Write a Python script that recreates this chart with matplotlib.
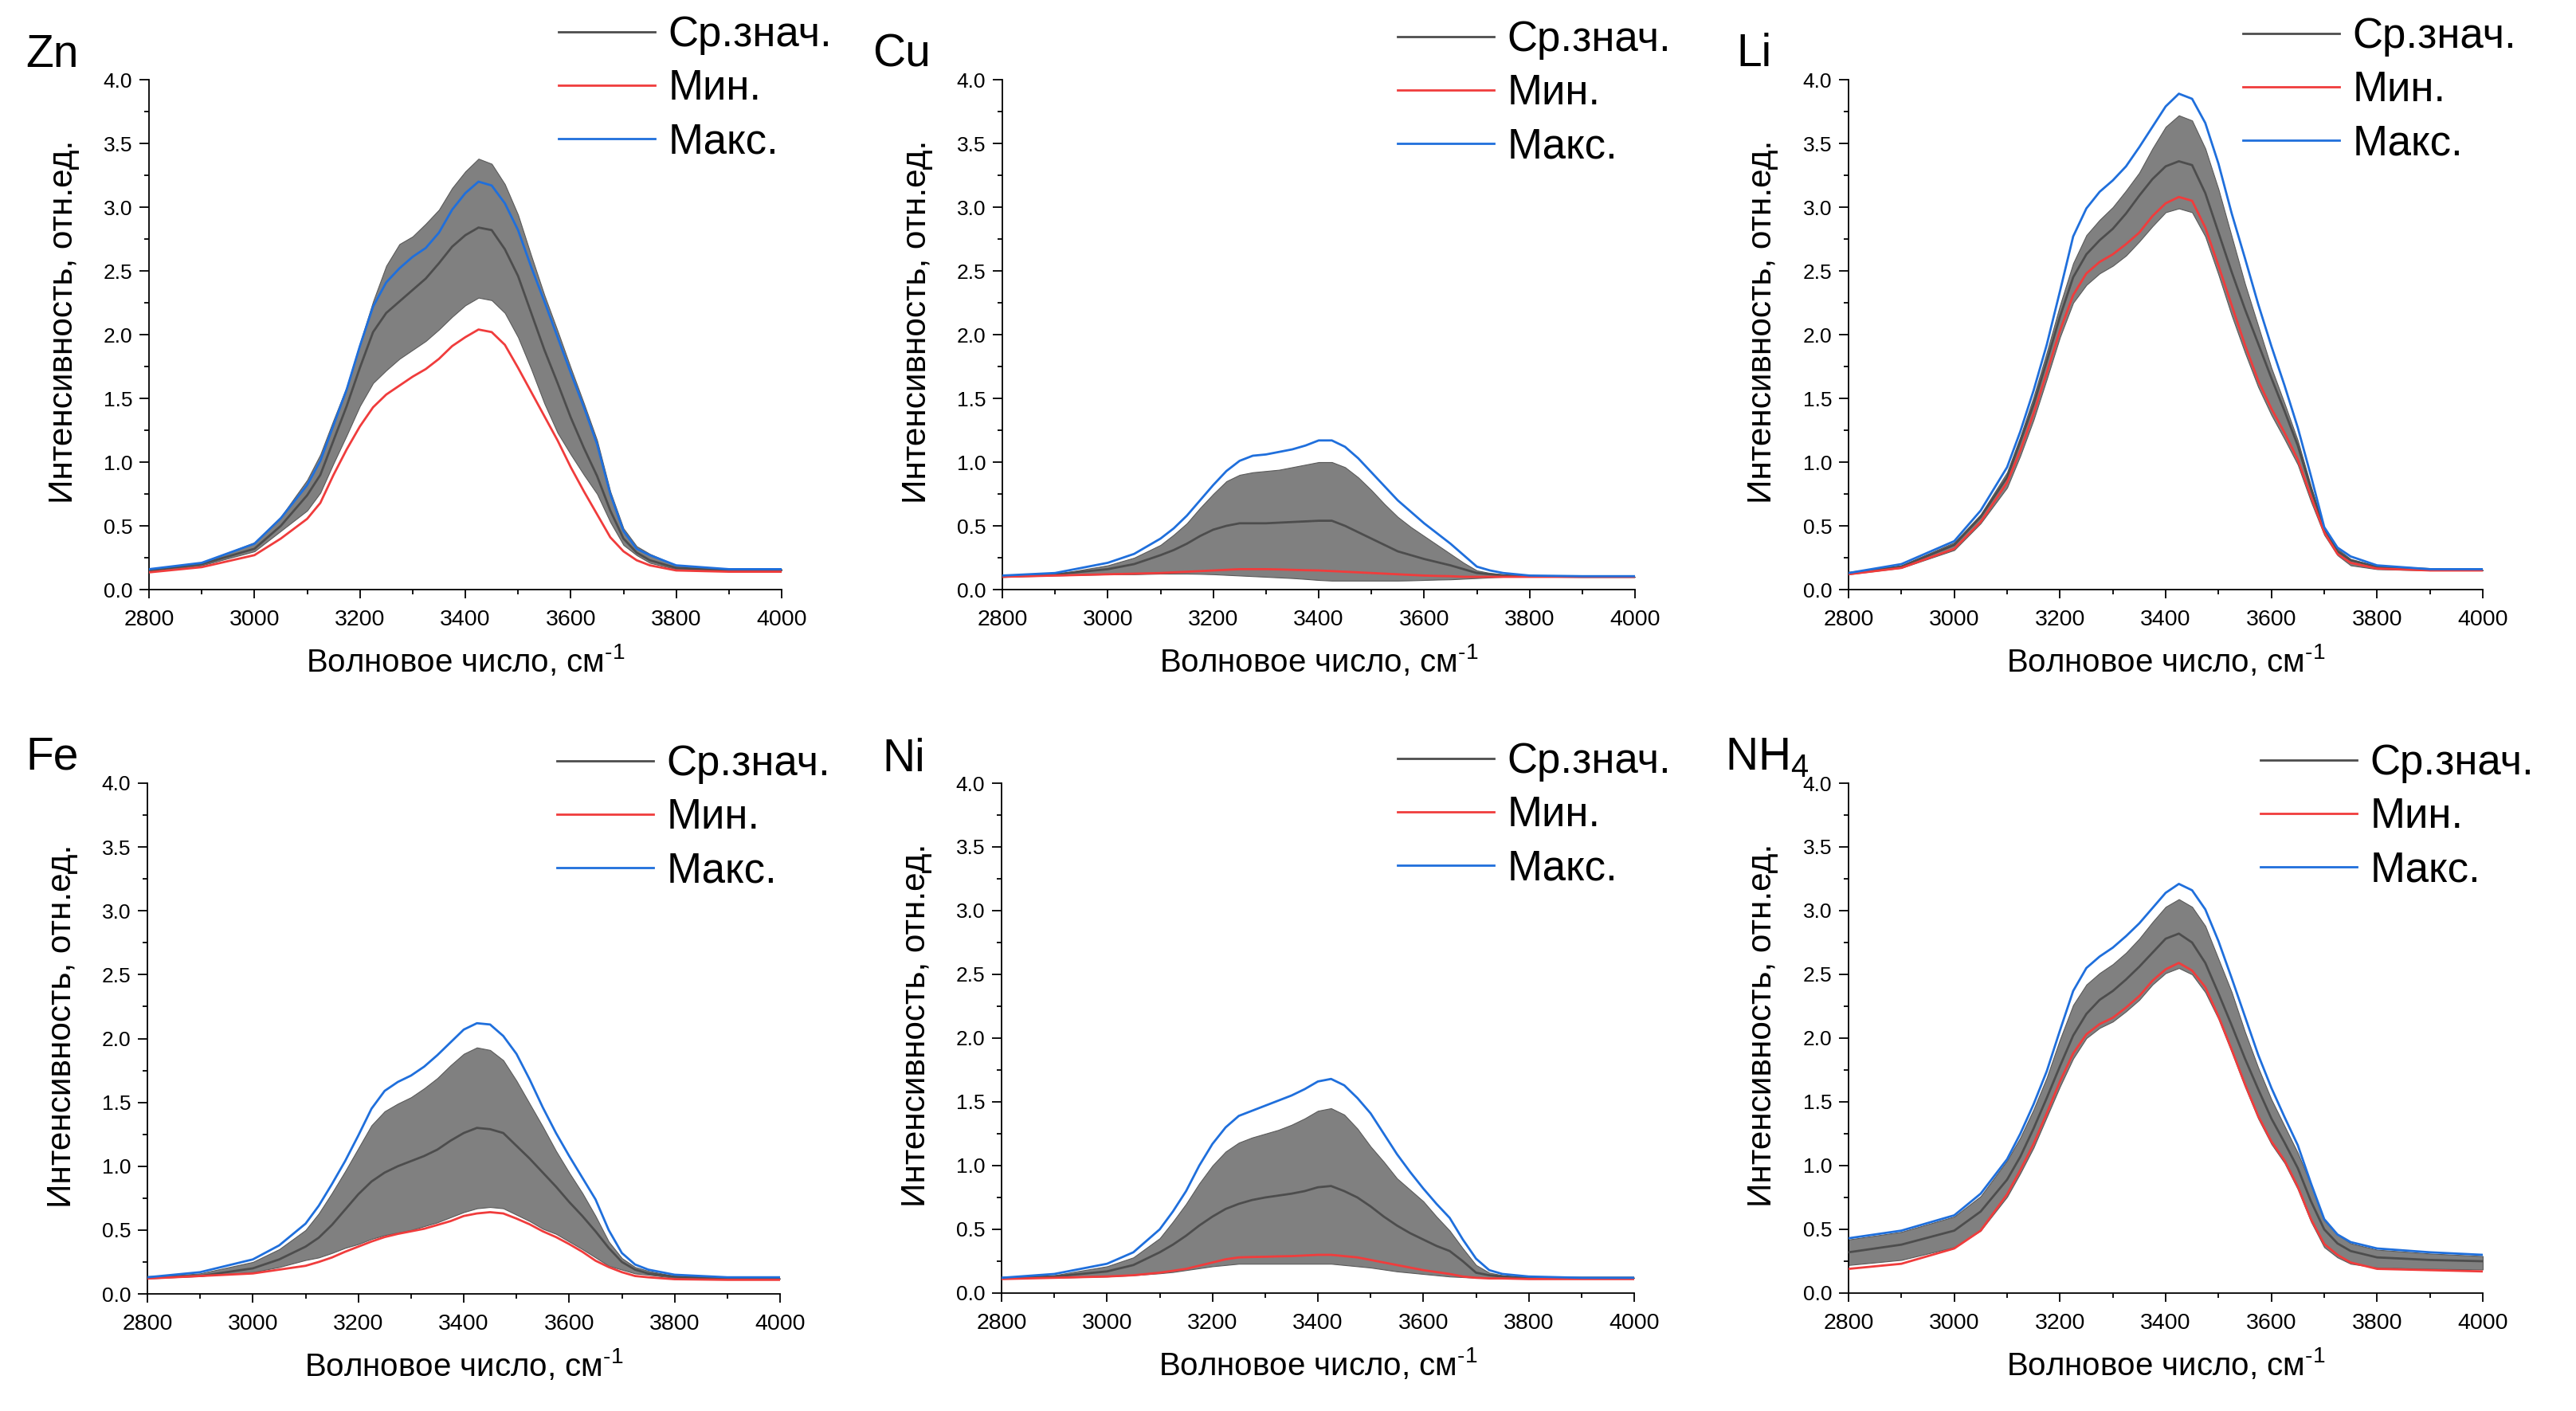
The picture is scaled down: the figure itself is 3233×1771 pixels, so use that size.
import numpy as np
import matplotlib
matplotlib.use("Agg")
import matplotlib.pyplot as plt
from matplotlib.ticker import AutoMinorLocator, MultipleLocator, FormatStrFormatter

plt.rcParams['font.family'] = ['Liberation Sans', 'DejaVu Sans']
plt.rcParams['mathtext.fontset'] = 'custom'
plt.rcParams['mathtext.rm'] = 'Liberation Sans'
plt.rcParams['mathtext.it'] = 'Liberation Sans:italic'

# wavenumber grid, cm-1
wn = [2800, 2900, 3000, 3050, 3100, 3125, 3150, 3175, 3200, 3225, 3250, 3275,
      3300, 3325, 3350, 3375, 3400, 3425, 3450, 3475, 3500, 3525, 3550, 3575,
      3600, 3625, 3650, 3675, 3700, 3725, 3750, 3800, 3900, 4000]

# Zn
zn_max = [0.16, 0.21, 0.36, 0.56, 0.82, 1.01, 1.29, 1.57, 1.91, 2.22, 2.41, 2.52,
          2.61, 2.68, 2.80, 2.98, 3.11, 3.20, 3.17, 3.03, 2.82, 2.53, 2.26, 1.98,
          1.70, 1.43, 1.14, 0.75, 0.46, 0.32, 0.27, 0.19, 0.16, 0.16]
zn_hi = [0.16, 0.21, 0.37, 0.57, 0.86, 1.06, 1.33, 1.59, 1.93, 2.26, 2.54, 2.71,
         2.77, 2.87, 2.98, 3.15, 3.28, 3.38, 3.34, 3.18, 2.94, 2.62, 2.31, 2.03,
         1.74, 1.46, 1.17, 0.77, 0.48, 0.34, 0.28, 0.19, 0.16, 0.16]
zn_mean = [0.15, 0.20, 0.32, 0.50, 0.74, 0.90, 1.17, 1.44, 1.74, 2.02, 2.17, 2.26,
           2.35, 2.44, 2.56, 2.69, 2.78, 2.84, 2.82, 2.67, 2.46, 2.17, 1.88, 1.62,
           1.35, 1.11, 0.89, 0.62, 0.40, 0.29, 0.23, 0.17, 0.15, 0.15]
zn_lo = [0.14, 0.19, 0.30, 0.46, 0.62, 0.76, 0.99, 1.21, 1.44, 1.62, 1.72, 1.81,
         1.88, 1.95, 2.04, 2.14, 2.23, 2.29, 2.27, 2.17, 1.98, 1.73, 1.46, 1.23,
         1.06, 0.90, 0.75, 0.53, 0.35, 0.27, 0.21, 0.16, 0.15, 0.15]
zn_min = [0.135, 0.176, 0.27, 0.40, 0.555, 0.68, 0.90, 1.10, 1.28, 1.43, 1.53, 1.60,
          1.67, 1.73, 1.81, 1.91, 1.98, 2.04, 2.02, 1.92, 1.74, 1.55, 1.36, 1.17,
          0.96, 0.77, 0.59, 0.41, 0.30, 0.23, 0.19, 0.15, 0.14, 0.14]

# Cu
cu_max = [0.11, 0.13, 0.21, 0.28, 0.40, 0.48, 0.58, 0.70, 0.82, 0.93, 1.01, 1.05,
          1.06, 1.08, 1.10, 1.13, 1.17, 1.17, 1.12, 1.03, 0.92, 0.81, 0.70, 0.61,
          0.52, 0.44, 0.36, 0.27, 0.18, 0.15, 0.13, 0.11, 0.105, 0.105]
cu_hi = [0.11, 0.12, 0.19, 0.25, 0.35, 0.43, 0.52, 0.64, 0.75, 0.85, 0.90, 0.92,
         0.93, 0.94, 0.96, 0.98, 1.00, 1.00, 0.96, 0.88, 0.78, 0.67, 0.57, 0.49,
         0.42, 0.35, 0.28, 0.21, 0.15, 0.13, 0.12, 0.11, 0.105, 0.10]
cu_mean = [0.10, 0.12, 0.16, 0.20, 0.27, 0.31, 0.36, 0.42, 0.47, 0.50, 0.52, 0.52,
           0.52, 0.525, 0.53, 0.535, 0.54, 0.54, 0.50, 0.45, 0.40, 0.35, 0.30, 0.27,
           0.24, 0.215, 0.19, 0.16, 0.13, 0.12, 0.11, 0.105, 0.10, 0.10]
cu_lo = [0.10, 0.11, 0.12, 0.12, 0.125, 0.125, 0.125, 0.123, 0.12, 0.115, 0.11, 0.105,
         0.10, 0.095, 0.09, 0.083, 0.075, 0.07, 0.07, 0.07, 0.07, 0.07, 0.07, 0.072,
         0.075, 0.078, 0.08, 0.085, 0.09, 0.095, 0.10, 0.10, 0.10, 0.10]
cu_min = [0.10, 0.11, 0.12, 0.125, 0.13, 0.135, 0.14, 0.145, 0.15, 0.155, 0.16, 0.16,
          0.16, 0.158, 0.155, 0.152, 0.15, 0.145, 0.14, 0.135, 0.13, 0.125, 0.12, 0.115,
          0.11, 0.107, 0.105, 0.10, 0.10, 0.10, 0.10, 0.10, 0.10, 0.10]

# Li
li_max = [0.13, 0.20, 0.38, 0.62, 0.96, 1.24, 1.56, 1.92, 2.34, 2.77, 2.99, 3.12,
          3.21, 3.32, 3.47, 3.63, 3.79, 3.89, 3.85, 3.66, 3.34, 2.95, 2.60, 2.24,
          1.91, 1.60, 1.27, 0.89, 0.49, 0.33, 0.26, 0.19, 0.16, 0.16]
li_hi = [0.13, 0.19, 0.37, 0.59, 0.92, 1.20, 1.51, 1.86, 2.23, 2.56, 2.78, 2.90,
         3.00, 3.13, 3.27, 3.46, 3.63, 3.72, 3.68, 3.46, 3.14, 2.77, 2.40, 2.07,
         1.74, 1.46, 1.17, 0.81, 0.48, 0.32, 0.24, 0.18, 0.16, 0.155]
li_mean = [0.13, 0.18, 0.35, 0.57, 0.88, 1.16, 1.45, 1.79, 2.14, 2.45, 2.63, 2.74,
           2.83, 2.95, 3.09, 3.22, 3.32, 3.36, 3.33, 3.11, 2.80, 2.49, 2.20, 1.93,
           1.66, 1.40, 1.13, 0.79, 0.47, 0.30, 0.23, 0.18, 0.16, 0.155]
li_min = [0.12, 0.17, 0.32, 0.53, 0.84, 1.09, 1.38, 1.70, 2.03, 2.31, 2.48, 2.57,
          2.63, 2.71, 2.80, 2.93, 3.03, 3.08, 3.05, 2.84, 2.54, 2.23, 1.92, 1.64,
          1.42, 1.23, 1.02, 0.73, 0.45, 0.28, 0.21, 0.165, 0.15, 0.15]
li_lo = [0.12, 0.17, 0.31, 0.52, 0.80, 1.05, 1.33, 1.65, 1.98, 2.25, 2.39, 2.48,
         2.54, 2.62, 2.73, 2.85, 2.96, 2.99, 2.96, 2.77, 2.47, 2.15, 1.86, 1.59,
         1.37, 1.18, 0.98, 0.69, 0.43, 0.27, 0.19, 0.16, 0.15, 0.15]

# Fe
fe_max = [0.13, 0.17, 0.27, 0.38, 0.55, 0.69, 0.86, 1.04, 1.24, 1.45, 1.59, 1.66,
          1.71, 1.78, 1.87, 1.97, 2.07, 2.12, 2.11, 2.02, 1.88, 1.68, 1.46, 1.26,
          1.08, 0.91, 0.74, 0.50, 0.32, 0.23, 0.19, 0.15, 0.13, 0.13]
fe_hi = [0.13, 0.16, 0.25, 0.35, 0.50, 0.63, 0.79, 0.96, 1.14, 1.32, 1.43, 1.49,
         1.54, 1.61, 1.69, 1.79, 1.88, 1.93, 1.91, 1.83, 1.67, 1.49, 1.31, 1.12,
         0.95, 0.79, 0.61, 0.41, 0.28, 0.21, 0.18, 0.14, 0.12, 0.12]
fe_mean = [0.13, 0.14, 0.20, 0.27, 0.37, 0.44, 0.54, 0.66, 0.78, 0.88, 0.95, 1.00,
           1.04, 1.08, 1.13, 1.20, 1.26, 1.30, 1.29, 1.26, 1.16, 1.06, 0.95, 0.84,
           0.72, 0.61, 0.49, 0.36, 0.25, 0.19, 0.16, 0.135, 0.12, 0.12]
fe_lo = [0.12, 0.14, 0.17, 0.21, 0.265, 0.285, 0.32, 0.36, 0.39, 0.43, 0.46, 0.48,
         0.50, 0.53, 0.56, 0.60, 0.64, 0.67, 0.68, 0.67, 0.62, 0.57, 0.51, 0.47,
         0.41, 0.35, 0.285, 0.22, 0.19, 0.16, 0.15, 0.125, 0.12, 0.12]
fe_min = [0.12, 0.14, 0.16, 0.19, 0.22, 0.25, 0.285, 0.33, 0.37, 0.41, 0.445, 0.47,
          0.49, 0.51, 0.54, 0.57, 0.61, 0.63, 0.64, 0.63, 0.59, 0.545, 0.49, 0.445,
          0.39, 0.33, 0.26, 0.21, 0.17, 0.14, 0.13, 0.115, 0.11, 0.11]

# Ni
ni_max = [0.12, 0.15, 0.23, 0.32, 0.50, 0.64, 0.80, 1.00, 1.17, 1.30, 1.39, 1.43,
          1.47, 1.51, 1.55, 1.60, 1.66, 1.68, 1.63, 1.53, 1.41, 1.25, 1.09, 0.95,
          0.82, 0.70, 0.59, 0.42, 0.27, 0.18, 0.15, 0.13, 0.12, 0.12]
ni_hi = [0.12, 0.14, 0.21, 0.28, 0.43, 0.56, 0.70, 0.86, 1.00, 1.11, 1.18, 1.22,
         1.25, 1.28, 1.32, 1.37, 1.43, 1.45, 1.40, 1.29, 1.15, 1.03, 0.90, 0.81,
         0.72, 0.60, 0.49, 0.35, 0.22, 0.16, 0.14, 0.12, 0.12, 0.12]
ni_mean = [0.12, 0.13, 0.17, 0.22, 0.32, 0.38, 0.45, 0.53, 0.60, 0.66, 0.70, 0.73,
           0.75, 0.765, 0.78, 0.80, 0.83, 0.84, 0.80, 0.75, 0.68, 0.60, 0.53, 0.47,
           0.42, 0.37, 0.33, 0.25, 0.16, 0.14, 0.13, 0.12, 0.12, 0.12]
ni_lo = [0.12, 0.12, 0.13, 0.14, 0.155, 0.165, 0.18, 0.195, 0.21, 0.22, 0.23, 0.23,
         0.23, 0.23, 0.23, 0.23, 0.23, 0.23, 0.22, 0.21, 0.20, 0.185, 0.17, 0.16,
         0.15, 0.14, 0.13, 0.125, 0.12, 0.12, 0.12, 0.12, 0.12, 0.12]
ni_min = [0.11, 0.12, 0.13, 0.14, 0.16, 0.175, 0.19, 0.215, 0.24, 0.265, 0.28, 0.283,
          0.285, 0.288, 0.29, 0.295, 0.30, 0.30, 0.29, 0.28, 0.26, 0.24, 0.22, 0.20,
          0.18, 0.165, 0.15, 0.13, 0.12, 0.115, 0.115, 0.11, 0.11, 0.11]

# NH4
nh_max = [0.43, 0.49, 0.61, 0.78, 1.05, 1.25, 1.48, 1.74, 2.06, 2.37, 2.55, 2.64,
          2.71, 2.80, 2.90, 3.02, 3.14, 3.21, 3.16, 3.01, 2.76, 2.47, 2.17, 1.87,
          1.61, 1.38, 1.16, 0.86, 0.58, 0.46, 0.40, 0.35, 0.32, 0.30]
nh_hi = [0.42, 0.48, 0.60, 0.76, 1.04, 1.22, 1.44, 1.69, 1.99, 2.26, 2.42, 2.51,
         2.58, 2.67, 2.78, 2.91, 3.03, 3.09, 3.03, 2.88, 2.62, 2.36, 2.05, 1.77,
         1.52, 1.31, 1.10, 0.85, 0.57, 0.46, 0.39, 0.34, 0.31, 0.29]
nh_mean = [0.32, 0.38, 0.49, 0.64, 0.89, 1.07, 1.29, 1.53, 1.78, 2.02, 2.19, 2.30,
           2.37, 2.46, 2.56, 2.67, 2.78, 2.82, 2.75, 2.59, 2.35, 2.10, 1.84, 1.60,
           1.37, 1.18, 0.98, 0.72, 0.50, 0.39, 0.33, 0.28, 0.26, 0.25]
nh_lo = [0.22, 0.26, 0.36, 0.49, 0.755, 0.94, 1.14, 1.38, 1.62, 1.84, 2.00, 2.08,
         2.13, 2.21, 2.30, 2.42, 2.51, 2.55, 2.50, 2.36, 2.15, 1.89, 1.62, 1.37,
         1.17, 1.02, 0.815, 0.56, 0.36, 0.28, 0.23, 0.20, 0.19, 0.185]
nh_min = [0.19, 0.23, 0.35, 0.49, 0.775, 0.965, 1.17, 1.41, 1.66, 1.88, 2.03, 2.11,
          2.16, 2.24, 2.33, 2.45, 2.54, 2.59, 2.53, 2.40, 2.17, 1.91, 1.64, 1.39,
          1.19, 1.04, 0.835, 0.58, 0.385, 0.30, 0.24, 0.19, 0.18, 0.17]

names = ['Zn', 'Cu', 'Li', 'Fe', 'Ni', r'NH$_4$']
series = [
    (zn_mean, zn_min, zn_max, zn_lo, zn_hi),
    (cu_mean, cu_min, cu_max, cu_lo, cu_hi),
    (li_mean, li_min, li_max, li_lo, li_hi),
    (fe_mean, fe_min, fe_max, fe_lo, fe_hi),
    (ni_mean, ni_min, ni_max, ni_lo, ni_hi),
    (nh_mean, nh_min, nh_max, nh_lo, nh_hi),
]
leg_labels = ['Ср.знач.', 'Мин.', 'Макс.']

W, H = 3233, 1771
# axes boxes in pixels: left, right, top, bottom
boxes = [(187, 981, 100, 740), (1258, 2052, 100, 740), (2320, 3116, 100, 740),
         (185, 979, 983, 1624), (1257, 2051, 983, 1623), (2320, 3116, 983, 1623)]
# panel label positions (x, baseline) in pixels
lab_pos = [(32, 84), (1095, 83), (2179, 83), (32, 966), (1107, 968), (2165, 966)]
# legend anchors: handle start x, top of legend y
leg_pos = [(701, 19), (1754, 25), (2815, 21), (699, 934), (1754, 931), (2837, 933)]

c_mean = '#4d4d4d'
c_min = '#f03c3c'
c_max = '#1f6fdc'
c_band = '#808080'

fig = plt.figure(figsize=(W / 100, H / 100), dpi=100)

for i in range(6):
    l, r, t, b = boxes[i]
    ax = fig.add_axes([l / W, 1 - b / H, (r - l) / W, (b - t) / H])
    mean, mn, mx, lo, hi = series[i]
    ax.fill_between(wn, lo, hi, facecolor=c_band, edgecolor='#5a5a5a', linewidth=0.8, zorder=1)
    h1, = ax.plot(wn, mean, color=c_mean, lw=2.0, zorder=3)
    h2, = ax.plot(wn, mn, color=c_min, lw=2.0, zorder=4)
    h3, = ax.plot(wn, mx, color=c_max, lw=2.0, zorder=5)

    ax.set_xlim(2800, 4000)
    ax.set_ylim(0, 4.0)
    ax.xaxis.set_major_locator(MultipleLocator(200))
    ax.xaxis.set_minor_locator(AutoMinorLocator(2))
    ax.yaxis.set_major_locator(MultipleLocator(0.5))
    ax.yaxis.set_minor_locator(AutoMinorLocator(2))
    ax.yaxis.set_major_formatter(FormatStrFormatter('%.1f'))
    for s in ['top', 'right']:
        ax.spines[s].set_visible(False)
    for s in ['left', 'bottom']:
        ax.spines[s].set_linewidth(1.3)
    ax.tick_params(axis='x', which='major', direction='out', length=8, width=1.3,
                   labelsize=20.5, pad=10)
    ax.tick_params(axis='y', which='major', direction='out', length=9, width=1.3,
                   labelsize=19, pad=6)
    ax.tick_params(which='minor', direction='out', length=4.5, width=1.3)

    ax.set_xlabel('Волновое число, см$^{\\mathregular{\u2010}1}$', fontsize=29)
    ax.xaxis.set_label_coords(0.5, -0.105)
    ax.set_ylabel('Интенсивность, отн.ед.', fontsize=30.5)
    ax.yaxis.set_label_coords(-0.11, 0.525)

    lx, ly = lab_pos[i]
    fig.text(lx / W, 1 - ly / H, names[i], fontsize=41, va='baseline', ha='left')

    px, py = leg_pos[i]
    ax.legend([h1, h2, h3], leg_labels, loc='upper left',
              bbox_to_anchor=(px / W, 1 - py / H), bbox_transform=fig.transFigure,
              frameon=False, fontsize=38, borderpad=0, borderaxespad=0,
              handlelength=2.3, handletextpad=0.3, labelspacing=0.33)

fig.savefig('out.png', dpi=100)
